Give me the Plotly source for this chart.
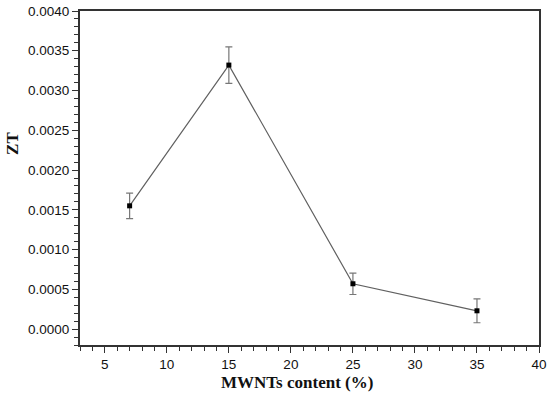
import plotly.graph_objects as go

mwnt_content = [7, 15, 25, 35]
zt_values = [0.00155, 0.00332, 0.00057, 0.00023]
zt_errors = [0.00016, 0.00023, 0.000135, 0.00015]

fig = go.Figure()
fig.add_trace(go.Scatter(
    x=mwnt_content, y=zt_values,
    mode="lines+markers",
    line=dict(color="#606060", width=1.2),
    marker=dict(symbol="square", size=5, color="black"),
    error_y=dict(type="data", array=zt_errors, visible=True,
                 color="#777777", thickness=1.2, width=3.5),
    showlegend=False,
))

axis_common = dict(
    showgrid=False, zeroline=False, automargin=False,
    showline=True, linecolor="#333333", linewidth=2, mirror=True,
    ticks="outside", ticklen=6, tickwidth=1.3, tickcolor="#333333",
    ticklabeloverflow="allow",
    tickfont=dict(family="Liberation Sans, Arial, sans-serif", size=13.5, color="#111111"),
    minor=dict(ticks="outside", ticklen=4, tickwidth=1.3, tickcolor="#333333"),
)

fig.update_xaxes(range=[3, 40], tick0=5, dtick=5, **axis_common)
fig.update_yaxes(range=[-0.0002, 0.004], tick0=0, dtick=0.0005, tickformat=".4f", **axis_common)

title_font = dict(family="Liberation Serif, Times New Roman, serif", size=17, color="#111111")
fig.add_annotation(text="<b>MWNTs content (%)</b>", xref="paper", yref="paper",
                   x=0.473, y=-0.112, xanchor="center", yanchor="middle",
                   showarrow=False, font=title_font)
fig.add_annotation(text="<b>ZT</b>", xref="paper", yref="paper",
                   x=-0.146, y=0.605, xanchor="center", yanchor="middle",
                   textangle=-90, showarrow=False, font=title_font)

fig.update_layout(
    width=550, height=394,
    margin=dict(l=80, r=11, t=11, b=49),
    plot_bgcolor="white", paper_bgcolor="white",
)

fig.write_html("out.html", config={"displayModeBar": False},
               post_script="document.body.style.margin='0';")
